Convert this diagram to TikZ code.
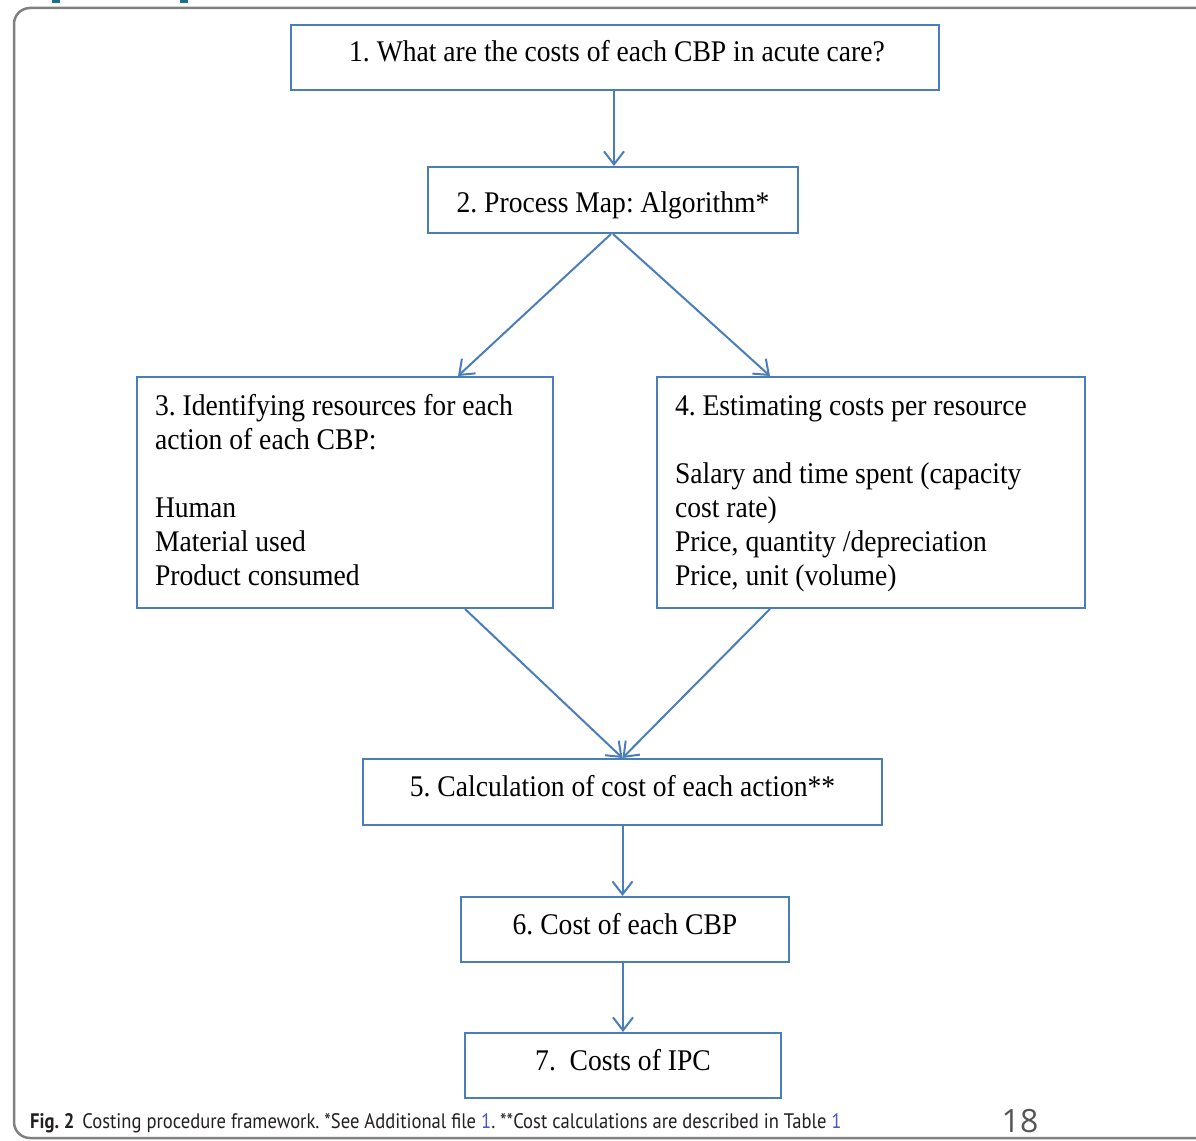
\documentclass[tikz,border=0pt]{standalone}
\usepackage{fontspec}
\setmainfont[FakeStretch=0.92]{Liberation Serif}
\newfontfamily\capfont[FakeStretch=0.885]{PT Sans}
\newfontfamily\numfont{Open Sans}
\usetikzlibrary{arrows.meta}
\definecolor{boxblue}{HTML}{4A7EBB}
\definecolor{framegray}{HTML}{808080}
\definecolor{linkblue}{HTML}{4A55C8}
\definecolor{capgray}{HTML}{231F20}
\definecolor{pagegray}{HTML}{555555}
\definecolor{tabblue}{HTML}{1F6E8C}
\frenchspacing
\begin{document}
\begin{tikzpicture}[x=1pt,y=-1pt,
  box/.style={draw=boxblue, line width=2pt, fill=white, inner sep=0pt,
    font=\fontsize{30}{34}\selectfont},
  onebox/.style={box, text height=22pt, text depth=13pt},
  listbox/.style={box, inner xsep=18pt, align=flush left,
    text height=20pt, text depth=175pt},
  flow/.style={draw=boxblue, line width=2pt,
    -{Straight Barb[length=13pt,width=20pt,line width=2pt]}}]
\clip (0,0) rectangle (1196,1140);
\useasboundingbox (0,0) rectangle (1196,1140);
\fill[white] (0,0) rectangle (1196,1140);
\fill[tabblue] (52,0) rectangle (60,3);
\fill[tabblue] (180,0) rectangle (188,3);
\draw[framegray, line width=2.5pt, rounded corners=16pt] (14,8) rectangle (1240,1138);

\node[onebox, minimum width=648pt, minimum height=65pt] (b1) at (615,57.5)
  {\hspace*{4pt}1. What are the costs of each CBP in acute care?};
\node[box, text height=26pt, text depth=2pt, minimum width=370pt, minimum height=66pt] (b2) at (613,200)
  {2. Process Map: Algorithm*};
\node[listbox, text width=380pt, minimum height=231pt] (b3) at (345,492.5)
  {3. Identifying resources for each\\
   action of each CBP:\\[34pt]
   Human\\
   Material used\\
   Product consumed};
\node[listbox, text width=392pt, minimum height=231pt] (b4) at (871,492.5)
  {4. Estimating costs per resource\\[34pt]
   Salary and time spent (capacity\\
   cost rate)\\
   Price, quantity /depreciation\\
   Price, unit (volume)};
\node[onebox, minimum width=519pt, minimum height=66pt] (b5) at (622.5,792)
  {5. Calculation of cost of each action**};
\node[onebox, minimum width=328pt, minimum height=65pt] (b6) at (625,929.5)
  {6. Cost of each CBP};
\node[onebox, minimum width=316pt, minimum height=65pt] (b7) at (623,1065.5)
  {7.\ \ Costs of IPC};

\draw[flow] ([xshift=-1pt]b1.south) -- ([xshift=-1pt]b1.south |- b2.north);
\draw[flow] ([xshift=-2pt]b2.south) -- ([xshift=113pt]b3.north);
\draw[flow] (b2.south) -- ([xshift=-101pt]b4.north);
\draw[flow] ([xshift=120pt]b3.south) -- (b5.north);
\draw[flow] ([xshift=-101pt]b4.south) -- (b5.north);
\draw[flow] (b5.south) -- (b5.south |- b6.north);
\draw[flow] ([xshift=-2pt]b6.south) -- ([xshift=-2pt]b6.south |- b7.north);

\node[anchor=base west, inner sep=0pt, text=capgray,
  font=\capfont\fontsize{21}{24}\selectfont] (cap) at (30,1128)
  {\textbf{Fig. 2}\hspace{8pt}Costing procedure framework. *See Additional file \textcolor{linkblue}{1}. **Cost calculations are described in Table \textcolor{linkblue}{1}};
\node[anchor=base, inner sep=0pt, text=pagegray,
  font=\numfont\fontsize{32}{34}\selectfont] (pg) at (1020,1132) {18};
\end{tikzpicture}
\end{document}
